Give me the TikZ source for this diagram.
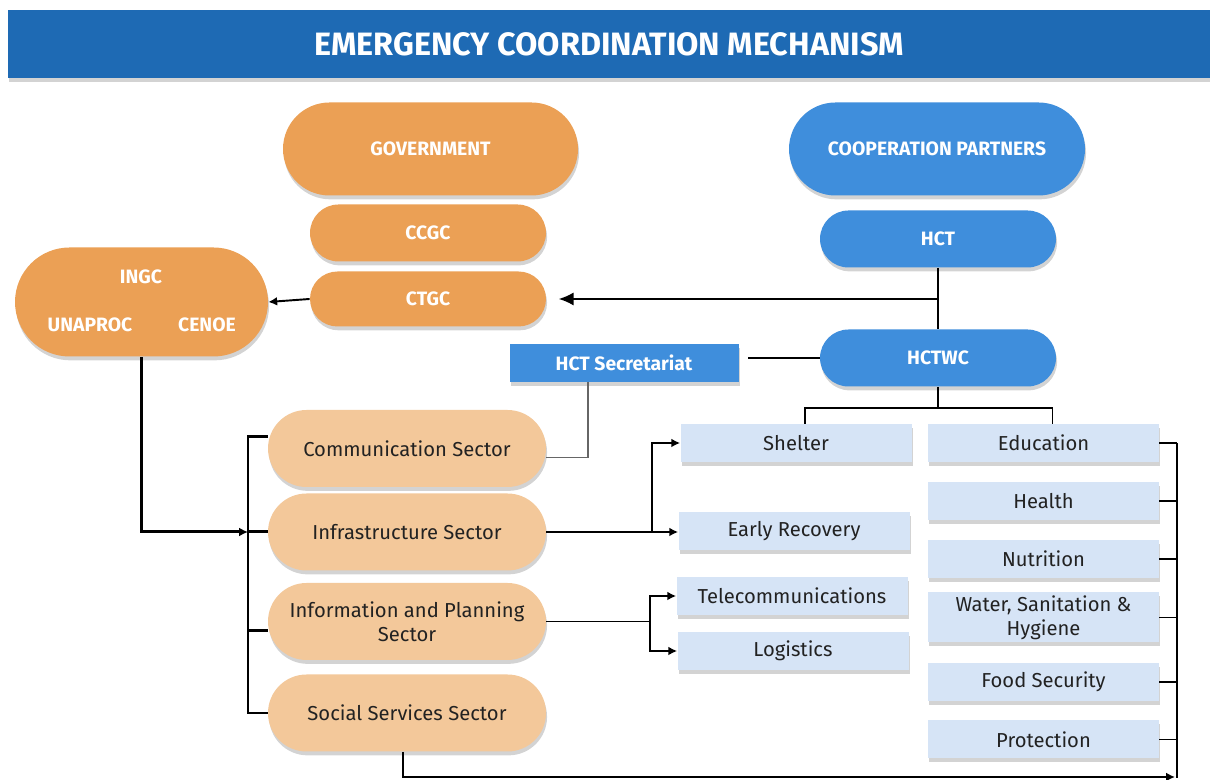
\documentclass[tikz,border=0pt]{standalone}
\usepackage{fontspec}
\setmainfont{Fira Sans}
\usepackage{xcolor}
\usepackage{tikz}
\usetikzlibrary{calc,positioning,shapes.misc,shadows,arrows.meta}

\definecolor{barblue}{RGB}{30,106,180}
\definecolor{govorange}{RGB}{235,160,85}
\definecolor{secorange}{RGB}{243,200,154}
\definecolor{partblue}{RGB}{63,142,220}
\definecolor{clustblue}{RGB}{214,228,246}
\definecolor{textdark}{RGB}{34,34,34}

\begin{document}
\begin{tikzpicture}[
	shade/.style={drop shadow={shadow xshift=0.6pt,shadow yshift=-2.2pt,opacity=0.35}},
	bigpill/.style={rounded rectangle,shade,text=white,inner sep=0pt,font=\bfseries\fontsize{11}{13}\selectfont},
	govpill/.style={bigpill,fill=govorange},
	partpill/.style={bigpill,fill=partblue},
	sector/.style={rounded rectangle,shade,fill=secorange,text=textdark,inner sep=0pt,align=center,
		minimum width=5.56cm,minimum height=1.54cm,font=\fontsize{11.5}{13.6}\selectfont},
	cluster/.style={rectangle,shade,fill=clustblue,text=textdark,inner sep=0pt,align=center,
		minimum width=4.62cm,minimum height=0.76cm,font=\fontsize{11.5}{13.6}\selectfont},
	conn/.style={line width=1.1pt},
	busline/.style={line width=1.7pt},
	tip/.style={-{Latex[length=5pt,width=5pt]}},
	bigtip/.style={-{Latex[length=8.5pt,width=7.5pt]}}]
	\useasboundingbox (0,0) rectangle (24.2,15.6);
	% title bar
	\node[rectangle,fill=barblue,shade,minimum width=24.04cm,minimum height=1.36cm,text=white,
		font=\bfseries\fontsize{18.4}{20}\selectfont] (title) at (12.18,14.72) {EMERGENCY COORDINATION MECHANISM};
	% government side
	\node[govpill,minimum width=5.9cm,minimum height=1.86cm] (govt) at (8.61,12.62) {GOVERNMENT};
	\node[govpill,minimum width=4.72cm,minimum height=1.14cm] (ccgc) at (8.56,10.94) {CCGC};
	\node[govpill,minimum width=4.72cm,minimum height=1.1cm] (ctgc) at (8.56,9.62) {CTGC};
	\node[govpill,minimum width=5.06cm,minimum height=2.18cm] (ingc) at (2.83,9.56) {};
	\node[text=white,font=\bfseries\fontsize{11}{13}\selectfont] (ingclbl) at (2.82,10.06) {INGC};
	\node[text=white,font=\bfseries\fontsize{11}{13}\selectfont] (unaproc) at (1.8,9.1) {UNAPROC};
	\node[text=white,font=\bfseries\fontsize{11}{13}\selectfont] (cenoe) at (4.14,9.1) {CENOE};
	% partners side
	\node[partpill,minimum width=5.92cm,minimum height=1.86cm] (coop) at (18.74,12.62) {COOPERATION PARTNERS};
	\node[partpill,minimum width=4.72cm,minimum height=1.14cm] (hct) at (18.76,10.82) {HCT};
	\node[partpill,minimum width=4.72cm,minimum height=1.14cm] (hctwc) at (18.76,8.44) {HCTWC};
	\node[rectangle,shade,fill=partblue,text=white,minimum width=4.58cm,minimum height=0.76cm,
		font=\bfseries\fontsize{11}{13}\selectfont] (sec) at (12.48,8.34) {HCT Secretariat};
	% sectors
	\node[sector] (comm) at (8.14,6.63) {Communication Sector};
	\node[sector] (infra) at (8.14,4.96) {Infrastructure Sector};
	\node[sector] (info) at (8.14,3.17) {Information and Planning\\Sector};
	\node[sector] (social) at (8.14,1.34) {Social Services Sector};
	% clusters
	\node[cluster] (shelter) at (15.92,6.74) {Shelter};
	\node[cluster] (early) at (15.88,4.98) {Early Recovery};
	\node[cluster] (telecom) at (15.84,3.68) {Telecommunications};
	\node[cluster] (logistics) at (15.86,2.58) {Logistics};
	\node[cluster] (edu) at (20.87,6.74) {Education};
	\node[cluster] (health) at (20.87,5.58) {Health};
	\node[cluster] (nutrition) at (20.87,4.42) {Nutrition};
	\node[cluster,minimum height=1cm] (wash) at (20.87,3.25) {Water, Sanitation \&\\Hygiene};
	\node[cluster] (food) at (20.87,1.96) {Food Security};
	\node[cluster] (protection) at (20.87,0.81) {Protection};
	% connectors
	\coordinate (lbus) at (4.96,0);
	\coordinate (ibr) at (13.04,0);
	\coordinate (pbr) at (13.0,0);
	\coordinate (rbus) at (23.54,0);
	\coordinate (corner) at (23.5,0.06);
	\coordinate (split) at ($(hctwc.south)+(0,-0.42)$);
	\draw[conn] (hct.south) -- (hctwc.north);
	\draw[conn,bigtip,shorten >=7pt] (hct.south |- ctgc.east) -- (ctgc.east);
	\draw[conn,tip] (ctgc.west) -- (ingc.east);
	\draw[conn,shorten >=5pt] (hctwc.west) -- (hctwc.west -| sec.east);
	\draw[conn] (hctwc.south) -- (split);
	\draw[conn] ($(shelter.north)+(0.18,0)$) |- (split) -| ($(edu.north)+(0.18,0)$);
	\draw[line width=0.8pt,black!60] ($(sec.south)+(-0.72,0)$) |- ($(comm.east)+(0,-0.18)$);
	\draw[busline,tip] (ingc.south) |- (lbus |- infra.west);
	\draw[busline] ($(comm.west)+(0,0.24)$) -| (lbus |- social.west) -- (social.west);
	\draw[busline] (lbus |- infra.west) -- (infra.west);
	\draw[busline] ($(lbus |- info.west)+(0,-0.18)$) -- ($(info.west)+(0,-0.18)$);
	\draw[conn] (infra.east) -- (ibr |- infra.east);
	\draw[conn,tip] (ibr |- infra.east) |- (shelter.west);
	\draw[conn,tip] (ibr |- infra.east) -- (infra.east -| early.west);
	\draw[conn] (info.east) -- (pbr |- info.east);
	\draw[conn,tip] (pbr |- info.east) |- (telecom.west);
	\draw[conn,tip] (pbr |- info.east) |- (logistics.west);
	\foreach \n in {edu,health,nutrition,wash,food,protection}
		\draw[conn] (\n.east) -- (rbus |- \n.east);
	\draw[conn] (rbus |- edu.east) -- (rbus |- 0,0.04);
	\draw[conn,tip] ($(social.south)+(-0.08,0)$) |- (corner);
\end{tikzpicture}
\end{document}
